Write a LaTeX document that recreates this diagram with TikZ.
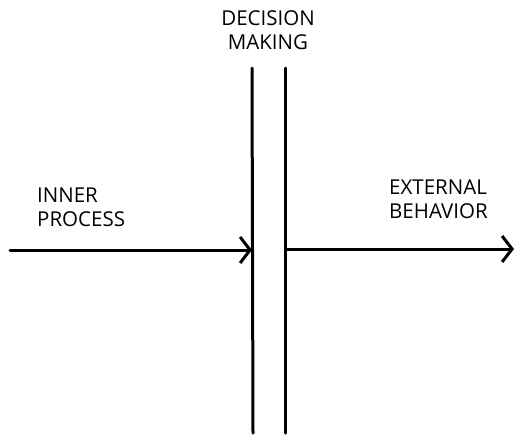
\documentclass[tikz,border=0pt]{standalone}
\usepackage{fontspec}
\setmainfont{Open Sans}
\usetikzlibrary{arrows.meta,positioning}
\tikzset{
 wall/.style={line width=3pt,line cap=round},
 flow/.style={line width=3pt,line cap=round,
   -{Straight Barb[length=10pt,width=26pt,line width=3pt]}},
 caption/.style={font=\fontsize{20.5}{24}\selectfont,inner sep=0pt}
}
\begin{document}
\begin{tikzpicture}[x=1pt,y=-1pt]
 \useasboundingbox (0,0) rectangle (516,440);
 % the two walls of the decision making layer
 \coordinate (lefttop) at (252,68);
 \coordinate (leftbot) at (253,433);
 \coordinate (righttop) at (285,68);
 \coordinate (rightbot) at (285,433);
 \draw[wall] (lefttop) -- (leftbot);
 \draw[wall] (righttop) -- (rightbot);
 % inner process coming in, external behavior going out
 \coordinate (instart) at (10,250);
 \coordinate (inend) at (252,250);
 \coordinate (outstart) at (287,249);
 \coordinate (outend) at (514,249);
 \draw[flow] (instart) -- (inend);
 \draw[flow] (outstart) -- (outend);
 % labels
 \node[caption,align=center] (decision) at (268,30) {DECISION\\MAKING};
 \node[caption,align=left,anchor=west] (inner) at (37,207) {INNER\\PROCESS};
 \node[caption,align=left,anchor=west] (external) at (389,199) {EXTERNAL\\BEHAVIOR};
\end{tikzpicture}
\end{document}
